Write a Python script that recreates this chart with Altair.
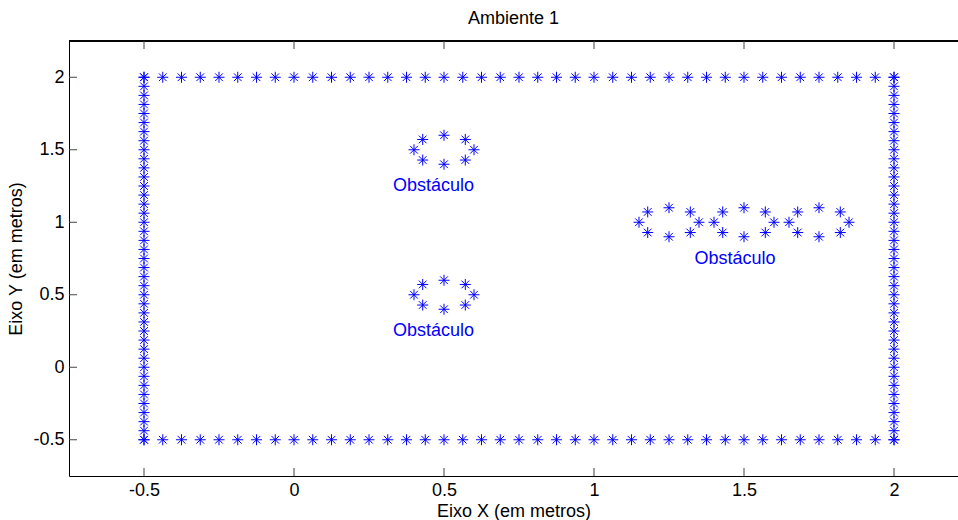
import altair as alt
import pandas as pd

# wall sample positions (same spacing on both axes)
wall_x = [-0.5, -0.4375, -0.375, -0.3125, -0.25, -0.1875, -0.125, -0.0625, 0.0, 0.0625,
          0.125, 0.1875, 0.25, 0.3125, 0.375, 0.4375, 0.5, 0.5625, 0.625, 0.6875,
          0.75, 0.8125, 0.875, 0.9375, 1.0, 1.0625, 1.125, 1.1875, 1.25, 1.3125,
          1.375, 1.4375, 1.5, 1.5625, 1.625, 1.6875, 1.75, 1.8125, 1.875, 1.9375, 2.0]
wall_y = list(wall_x)

# obstacle 1 (around 0.5, 1.5)
obs1_x = [0.6, 0.571, 0.5, 0.429, 0.4, 0.429, 0.5, 0.571]
obs1_y = [1.5, 1.571, 1.6, 1.571, 1.5, 1.429, 1.4, 1.429]
# obstacle 2 (around 0.5, 0.5)
obs2_x = [0.6, 0.571, 0.5, 0.429, 0.4, 0.429, 0.5, 0.571]
obs2_y = [0.5, 0.571, 0.6, 0.571, 0.5, 0.429, 0.4, 0.429]
# obstacle 3 (three rings along y = 1)
obs3_x = [1.35, 1.321, 1.25, 1.179, 1.15, 1.179, 1.25, 1.321,
          1.6, 1.571, 1.5, 1.429, 1.4, 1.429, 1.5, 1.571,
          1.85, 1.821, 1.75, 1.679, 1.65, 1.679, 1.75, 1.821]
obs3_y = [1.0, 1.071, 1.1, 1.071, 1.0, 0.929, 0.9, 0.929,
          1.0, 1.071, 1.1, 1.071, 1.0, 0.929, 0.9, 0.929,
          1.0, 1.071, 1.1, 1.071, 1.0, 0.929, 0.9, 0.929]

label_x = [0.33, 0.33, 1.335]
label_y = [1.25, 0.25, 0.75]
label_text = ["Obstáculo", "Obstáculo", "Obstáculo"]

tick_values = [-0.5, 0, 0.5, 1, 1.5, 2]

xs, ys = [], []
xs += wall_x; ys += [2.0] * len(wall_x)
xs += wall_x; ys += [-0.5] * len(wall_x)
xs += [-0.5] * len(wall_y); ys += wall_y
xs += [2.0] * len(wall_y); ys += wall_y
xs += obs1_x + obs2_x + obs3_x
ys += obs1_y + obs2_y + obs3_y
points = pd.DataFrame({"x": xs, "y": ys})
labels = pd.DataFrame({"x": label_x, "y": label_y, "t": label_text})
ticks = pd.DataFrame({"v": tick_values})

W, H = 889, 435
FONT = "Liberation Sans"
FS = 18

xscale = alt.Scale(domain=[-0.75, 2.2133], nice=False, zero=False)
yscale = alt.Scale(domain=[-0.75, 2.25], nice=False, zero=False)

star = "M-1,0L1,0M0,-1L0,1M-0.7,-0.7L0.7,0.7M-0.7,0.7L0.7,-0.7"

pts = alt.Chart(points).mark_point(
    shape=star, filled=False, color="#0000ff", strokeWidth=1, size=121, opacity=1
).encode(
    x=alt.X("x:Q", scale=xscale,
            axis=alt.Axis(values=tick_values, title="Eixo X (em metros)", grid=False,
                          ticks=False, labelPadding=5, domainColor="#000000",
                          labelExpr="toString(datum.value)", titlePadding=3)),
    y=alt.Y("y:Q", scale=yscale,
            axis=alt.Axis(values=tick_values, title="Eixo Y (em metros)", grid=False,
                          ticks=False, labelPadding=5, domainColor="#000000",
                          labelExpr="toString(datum.value)", titlePadding=7)),
)

txt = alt.Chart(labels).mark_text(
    align="left", baseline="middle", color="#0000ff", font=FONT, fontSize=FS
).encode(x=alt.X("x:Q", scale=xscale), y=alt.Y("y:Q", scale=yscale), text="t:N")

tick_col = "#444444"
bottom_ticks = alt.Chart(ticks).mark_rule(color=tick_col, strokeWidth=1).encode(
    x=alt.X("v:Q", scale=xscale), y=alt.value(H), y2=alt.value(H - 8))
top_ticks = alt.Chart(ticks).mark_rule(color=tick_col, strokeWidth=1).encode(
    x=alt.X("v:Q", scale=xscale), y=alt.value(0), y2=alt.value(8))
left_ticks = alt.Chart(ticks).mark_rule(color=tick_col, strokeWidth=1).encode(
    y=alt.Y("v:Q", scale=yscale), x=alt.value(0), x2=alt.value(8))
top_border = alt.Chart(ticks).mark_rule(color="#000000", strokeWidth=1).encode(
    x=alt.value(0), x2=alt.value(W), y=alt.value(0))

chart = alt.layer(top_border, bottom_ticks, top_ticks, left_ticks, pts, txt).properties(
    width=W, height=H,
    background="white",
    title=alt.Title("Ambiente 1", fontSize=FS, font=FONT, fontWeight="normal",
                    color="#000000", baseline="alphabetic", offset=17, dy=18),
    autosize=alt.AutoSizeParams(type="none"),
    padding={"left": 69, "top": 41, "right": 0, "bottom": 44},
).configure_view(stroke=None).configure_axis(
    labelFont=FONT, labelFontSize=FS, labelColor="#000000",
    titleFont=FONT, titleFontSize=FS, titleColor="#000000", titleFontWeight="normal",
    domainWidth=1,
)

chart.save("out.html", embed_options={"renderer": "svg", "actions": False})
